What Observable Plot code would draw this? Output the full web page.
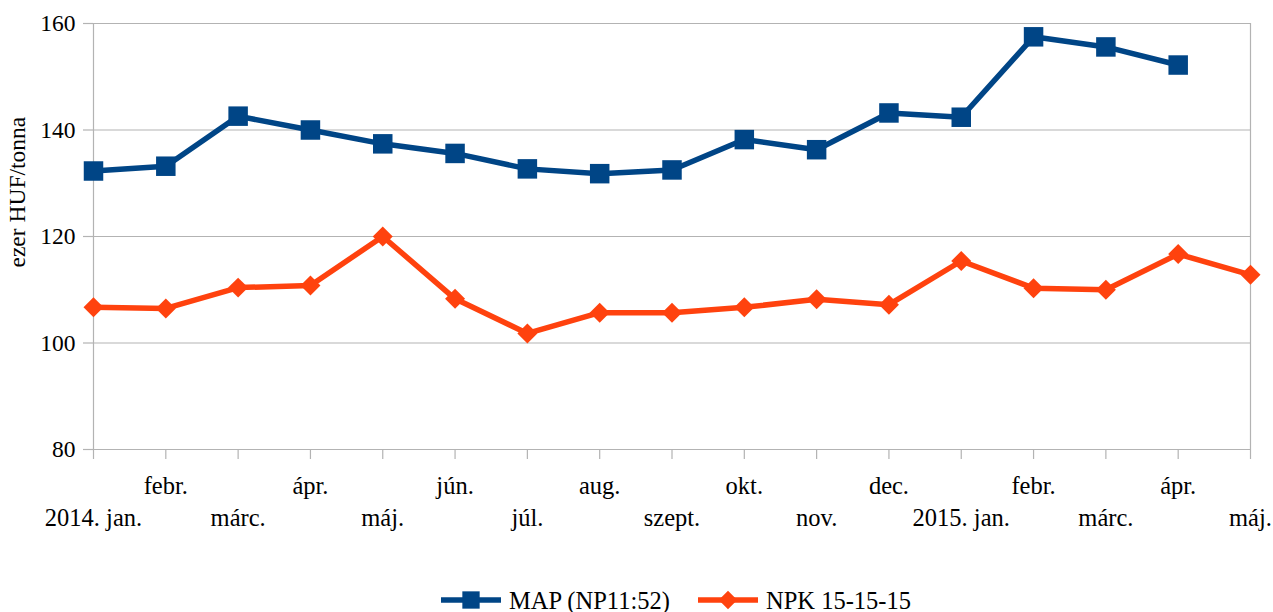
<!DOCTYPE html>
<html><head><meta charset="utf-8">
<script src="https://cdn.jsdelivr.net/npm/d3@7"></script>
<script src="https://cdn.jsdelivr.net/npm/@observablehq/plot@0.6"></script>
<style>
body{margin:0;background:#fff;font-family:'Liberation Serif','Times New Roman',Times,serif;}
#wrap{position:relative;width:1273px;height:612px;}
#legend{position:absolute;left:0;top:586px;width:1273px;height:28px;}
#legend svg{display:block}
svg text{font-family:'Liberation Serif','Times New Roman',Times,serif !important;}
</style></head>
<body><div id="wrap"><div id="chart"></div><div id="legend"></div></div>
<script>
const months = ["2014. jan.","febr.","márc.","ápr.","máj.","jún.","júl.","aug.","szept.","okt.","nov.","dec.","2015. jan.","febr.","márc.","ápr.","máj."];
const mapValues = [132.3,133.2,142.6,140.0,137.4,135.6,132.7,131.8,132.5,138.2,136.3,143.2,142.4,157.5,155.6,152.2,null];
const npkValues = [106.7,106.5,110.4,110.8,120.0,108.3,101.8,105.7,105.7,106.7,108.2,107.2,115.4,110.3,110.0,116.7,112.8];
const yTicks = [80,100,120,140,160];
const seriesNames = ["MAP (NP11:52)","NPK 15-15-15"];
const colors = ["#004586","#ff420e"];

const idx = months.map((m,i)=>i);
const mapData = idx.filter(i=>mapValues[i]!=null).map(i=>({i, v: mapValues[i]}));
const npkData = idx.map(i=>({i, v: npkValues[i]}));
const upper = idx.filter(i=>i%2===1);
const lower = idx.filter(i=>i%2===0);
const font = "'Liberation Serif','Times New Roman',Times,serif";

const chart = Plot.plot({
  width: 1273, height: 580,
  marginLeft: 93, marginRight: 23, marginTop: 23, marginBottom: 131,
  style: {fontFamily: font, background: "#fff"},
  x: {type: "linear", domain: [0, months.length-1]},
  y: {domain: [80,160]},
  marks: [
    Plot.gridY(yTicks, {stroke: "#b3b3b3", strokeOpacity: 1, strokeWidth: 1.2}),
    Plot.ruleX([0, months.length-1], {stroke: "#b3b3b3", strokeWidth: 1.2}),
    Plot.axisX(idx, {tickSize: 10, tickFormat: () => "", stroke: "#b3b3b3", strokeWidth: 1.2, label: null}),
    Plot.axisY(yTicks, {tickSize: 10, tickPadding: 8, stroke: "#b3b3b3", strokeWidth: 1.2, fill: "#000", fontSize: 23.5, label: null}),
    Plot.text(upper, {x: d=>d, text: d=>months[d], frameAnchor: "bottom", dy: 37, lineAnchor: "middle", fontSize: 24.5, fill: "#000"}),
    Plot.text(lower, {x: d=>d, text: d=>months[d], frameAnchor: "bottom", dy: 69, lineAnchor: "middle", fontSize: 24.5, fill: "#000"}),
    Plot.text(["ezer HUF/tonna"], {frameAnchor: "left", dx: -76, dy: 31, rotate: -90, fontSize: 23.5, fill: "#000", lineAnchor: "middle"}),
    Plot.line(mapData, {x: "i", y: "v", stroke: colors[0], strokeWidth: 5.5}),
    Plot.dot(mapData, {x: "i", y: "v", symbol: "square", r: 11, fill: colors[0]}),
    Plot.line(npkData, {x: "i", y: "v", stroke: colors[1], strokeWidth: 5.5}),
    Plot.dot(npkData, {x: "i", y: "v", symbol: "diamond2", r: 9, fill: colors[1]})
  ]
});
document.getElementById("chart").appendChild(chart);

// Legend
const lg = d3.select("#legend").append("svg").attr("width",1273).attr("height",28);
const items = [{x:441, name: seriesNames[0], color: colors[0], sym: d3.symbolSquare, size: 300},
               {x:698, name: seriesNames[1], color: colors[1], sym: d3.symbolDiamond2, size: 220}];
items.forEach(it=>{
  const g = lg.append("g").attr("transform",`translate(${it.x},14)`);
  g.append("line").attr("x1",0).attr("x2",60).attr("stroke",it.color).attr("stroke-width",5.5);
  g.append("path").attr("d", d3.symbol(it.sym, it.size)()).attr("transform","translate(30,0)").attr("fill",it.color);
  g.append("text").attr("x",68).attr("dy","0.35em").attr("font-size",24.5).text(it.name);
});
</script></body></html>
